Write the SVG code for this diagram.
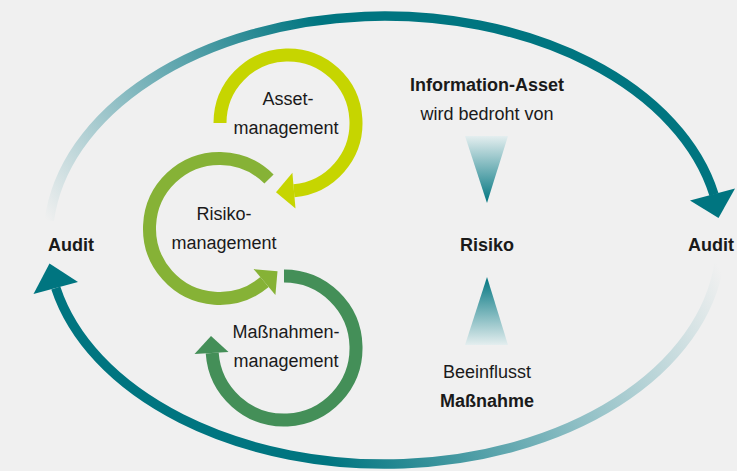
<svg xmlns="http://www.w3.org/2000/svg" width="737" height="471" viewBox="0 0 737 471">
  <style>
    text { font-family: "Liberation Sans", Arial, sans-serif; font-size: 18px; fill: #1a1a1a; text-anchor: middle; }
    .b { font-weight: bold; }
    .ring { fill: none; stroke-width: 13; stroke-linecap: butt; }
    .outer { fill: none; stroke-width: 9.5; stroke-linecap: butt; }
  </style>
  <defs>
    <linearGradient id="gTop" gradientUnits="userSpaceOnUse" x1="50" y1="225" x2="320" y2="22">
      <stop offset="0" stop-color="#f0f0f0"/>
      <stop offset="0.45" stop-color="#7fb6bd"/>
      <stop offset="1" stop-color="#007580"/>
    </linearGradient>
    <linearGradient id="gBot" gradientUnits="userSpaceOnUse" x1="330" y1="465" x2="716" y2="262">
      <stop offset="0" stop-color="#007580"/>
      <stop offset="0.55" stop-color="#8fbfc5"/>
      <stop offset="1" stop-color="#f0f0f0"/>
    </linearGradient>
    <linearGradient id="gDown" x1="0" y1="0" x2="0" y2="1">
      <stop offset="0" stop-color="#e4eeef"/>
      <stop offset="1" stop-color="#007580"/>
    </linearGradient>
    <linearGradient id="gUp" x1="0" y1="0" x2="0" y2="1">
      <stop offset="0" stop-color="#007580"/>
      <stop offset="1" stop-color="#e4eeef"/>
    </linearGradient>
  </defs>
  <rect width="737" height="471" fill="#f0f0f0"/>

  <g id="connectors">
    <path class="outer" stroke="url(#gTop)" d="M49.3 220.5 A336.5 224 0 0 1 714 194.6"/>
    <polygon fill="#007580" points="690,200.5 735,188.5 718.5,218"/>
    <path class="outer" stroke="url(#gBot)" d="M719.2 263 A336.5 224 0 0 1 55.8 288.1"/>
    <polygon fill="#007580" points="33.5,294 78,282 49.5,263.5"/>
    <polygon fill="url(#gDown)" points="465,136 508,136 487,203"/>
    <polygon fill="url(#gUp)" points="487,277 508,345 465,345"/>
  </g>

  <g id="asset">
    <path class="ring" stroke="#c6d500" d="M220 123 A68 68 0 1 1 293.9 190.7"/>
    <polygon fill="#c6d500" points="295.5,208.6 292.4,172.8 276,192.3"/>
    <text x="288" y="105">Asset-</text>
    <text x="286" y="134">management</text>
  </g>

  <g id="risiko-management">
    <path class="ring" stroke="#86b236" d="M269 179 A70 70 0 1 0 264.5 282.1"/>
    <polygon fill="#86b236" points="253.6,269.1 275.4,295.1 277.5,271.2"/>
    <text x="224" y="220">Risiko-</text>
    <text x="224" y="249">management</text>
  </g>

  <g id="massnahmen-management">
    <path class="ring" stroke="#448f58" d="M284 276 A72 72 0 1 1 212.2 353"/>
    <polygon fill="#448f58" points="194.5,354 228.5,352 211,336"/>
    <text x="286" y="338">Maßnahmen-</text>
    <text x="286" y="367">management</text>
  </g>

  <g id="information-asset">
    <text class="b" x="487" y="91">Information-Asset</text>
    <text x="487" y="120">wird bedroht von</text>
  </g>

  <g id="risiko">
    <text class="b" x="487" y="251">Risiko</text>
  </g>

  <g id="massnahme">
    <text x="487" y="378">Beeinflusst</text>
    <text class="b" x="487" y="407">Maßnahme</text>
  </g>

  <g id="audit-left">
    <text class="b" x="71" y="251">Audit</text>
  </g>
  <g id="audit-right">
    <text class="b" x="688" y="251" style="text-anchor:start">Audit</text>
  </g>
</svg>
